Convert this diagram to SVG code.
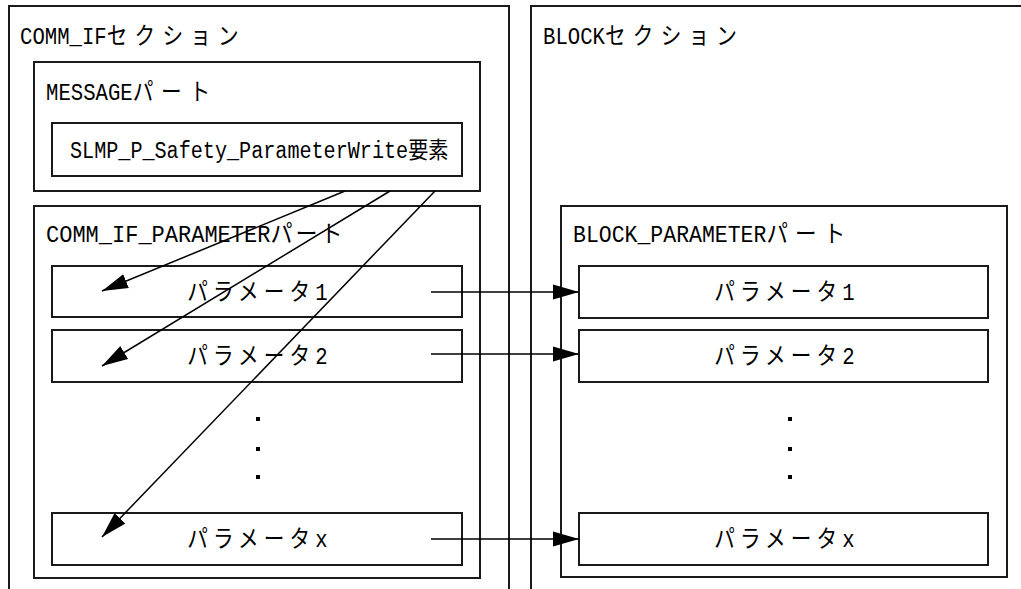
<svg xmlns="http://www.w3.org/2000/svg" width="1021" height="589" viewBox="0 0 1021 589">
<defs>
<marker id="ah" markerUnits="userSpaceOnUse" markerWidth="26" markerHeight="16" refX="26" refY="8" orient="auto">
<path d="M0,0.5 L26,8 L0,15.5 z" fill="#000"/>
</marker>
<style>
.box{fill:#fff;stroke:#1a1a1a;stroke-width:2}
.t{font-family:"Liberation Mono","Noto Sans CJK JP",monospace;font-size:24px;fill:#000}
.c{text-anchor:middle;letter-spacing:5.9px}
.ln{stroke:#000;stroke-width:1.5;fill:none;marker-end:url(#ah)}
.dot{fill:#000}
</style>
</defs>
<rect width="1021" height="589" fill="#fff"/>
<g id="comm_if_section">
<rect class="box" x="9" y="6" width="500" height="600"/>
<text class="t" transform="translate(20,44) scale(0.86,1)">COMM_IF<tspan letter-spacing="8.4">セクション</tspan></text>
</g>
<g id="block_section">
<rect class="box" x="531" y="6" width="520" height="600"/>
<text class="t" transform="translate(543,44) scale(0.86,1)">BLOCK<tspan letter-spacing="8.4">セクション</tspan></text>
</g>
<g id="message_part">
<rect class="box" x="34" y="62" width="446" height="129"/>
<text class="t" transform="translate(46,100) scale(0.86,1)">MESSAGE<tspan letter-spacing="9">パート</tspan></text>
</g>
<g id="slmp_element">
<rect class="box" x="52" y="123" width="410" height="53"/>
<text class="t" transform="translate(70,158) scale(0.875,1)" style="font-size:23px">SLMP_P_Safety_ParameterWrite要素</text>
</g>
<g id="comm_if_parameter_part">
<rect class="box" x="34" y="206" width="446" height="372"/>
<text class="t" transform="translate(46,242) scale(0.917,1)">COMM_IF_PARAMETER<tspan letter-spacing="3.3">パート</tspan></text>
</g>
<g id="block_parameter_part">
<rect class="box" x="561" y="206" width="446" height="371"/>
<text class="t" transform="translate(573,242) scale(0.896,1)">BLOCK_PARAMETER<tspan letter-spacing="8">パート</tspan></text>
</g>
<g id="left_param1">
<rect class="box" x="52" y="266" width="410" height="51"/>
<text class="t c" transform="translate(260,300) scale(0.86,1)">パラメータ1</text>
</g>
<g id="left_param2">
<rect class="box" x="52" y="330" width="410" height="52"/>
<text class="t c" transform="translate(260,364) scale(0.86,1)">パラメータ2</text>
</g>
<g id="left_dots">
<rect class="dot" x="256" y="417" width="4" height="4"/>
<rect class="dot" x="256" y="447" width="4" height="4"/>
<rect class="dot" x="256" y="475" width="4" height="4"/>
</g>
<g id="left_paramx">
<rect class="box" x="52" y="513" width="410" height="52"/>
<text class="t c" transform="translate(260,547) scale(0.86,1)">パラメータx</text>
</g>
<g id="right_param1">
<rect class="box" x="579" y="266" width="409" height="52"/>
<text class="t c" transform="translate(787,300) scale(0.86,1)">パラメータ1</text>
</g>
<g id="right_param2">
<rect class="box" x="579" y="330" width="409" height="52"/>
<text class="t c" transform="translate(787,364) scale(0.86,1)">パラメータ2</text>
</g>
<g id="right_dots">
<rect class="dot" x="788" y="417" width="4" height="4"/>
<rect class="dot" x="788" y="447" width="4" height="4"/>
<rect class="dot" x="788" y="475" width="4" height="4"/>
</g>
<g id="right_paramx">
<rect class="box" x="579" y="513" width="409" height="52"/>
<text class="t c" transform="translate(787,547) scale(0.86,1)">パラメータx</text>
</g>
<g id="connectors">
<line class="ln" x1="345" y1="191" x2="102" y2="291"/>
<line class="ln" x1="390" y1="191" x2="102" y2="366"/>
<line class="ln" x1="435" y1="191" x2="102" y2="537"/>
<line class="ln" x1="431" y1="292" x2="579" y2="292"/>
<line class="ln" x1="431" y1="354" x2="579" y2="354"/>
<line class="ln" x1="431" y1="539" x2="579" y2="539"/>
</g>
</svg>
